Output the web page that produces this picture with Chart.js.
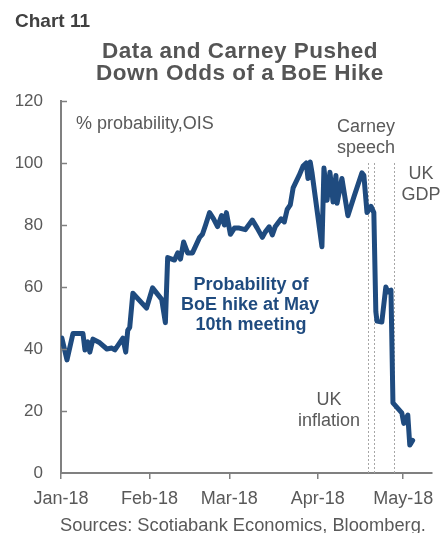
<!DOCTYPE html>
<html>
<head>
<meta charset="utf-8">
<script src="https://cdn.jsdelivr.net/npm/chart.js@4.4.1/dist/chart.umd.min.js"></script>
<style>
  html, body { margin: 0; padding: 0; background: #fff; }
  #wrap { position: relative; width: 443px; height: 533px; font-family: 'Liberation Sans', Arial, sans-serif; }
  #c { position: absolute; left: 0; top: 0; }
  .txt { position: absolute; white-space: nowrap; }
  #tag { left: 15px; top: 10px; font: bold 19px 'Liberation Sans Narrow', 'Liberation Sans', Arial, sans-serif; color: #404040; }
  #title { left: 40px; top: 40px; width: 400px; text-align: center; font-weight: bold; font-size: 22.5px; letter-spacing: 0.5px; line-height: 22px; color: #555555; }
  #source { left: 43px; top: 515px; width: 400px; text-align: center; font-size: 18.3px; line-height: 20px; color: #595959; }
</style>
</head>
<body>
<div id="wrap">
  <canvas id="c" width="443" height="533"></canvas>
  <div class="txt" id="tag">Chart 11</div>
  <div class="txt" id="title">Data and Carney Pushed<br>Down Odds of a BoE Hike</div>
  <div class="txt" id="source">Sources: Scotiabank Economics, Bloomberg.</div>
</div>
<script>
// days counted from 1 Jan 2018
var monthStarts = [0, 31, 59, 90, 120];
var monthLabels = ['Jan-18', 'Feb-18', 'Mar-18', 'Apr-18', 'May-18'];

var days = [0.3, 2.1, 4.2, 7.7, 8.4, 9.4, 10.1, 11.2, 13.6, 16.1,
  17.8, 18.9, 21.7, 22.7, 23.4, 24.1, 25.2, 30.0, 32.1, 35.3,
  36.6, 37.4, 39.8, 40.9, 41.9, 43.0, 44.4, 46.1, 48.6, 49.6,
  50.7, 52.1, 53.5, 54.9, 56.3, 57.3, 58.0, 59.4, 60.8, 62.5,
  64.6, 67.1, 68.8, 70.6, 71.6, 73.0, 74.1, 75.1, 77.2, 78.3,
  79.3, 80.4, 81.4, 83.5, 84.9, 86.0, 86.6, 87.4, 88.0, 91.5,
  92.2, 93.3, 94.3, 95.4, 96.4, 96.8, 98.5, 100.6, 102.7, 105.5,
  106.2, 107.3, 108.7, 109.7, 110.4, 110.8, 112.5, 113.9, 114.6, 115.7,
  116.4, 119.5, 120.2, 121.6, 122.3, 123.3];

var probability = [43.5, 36.5, 45, 45, 39.7, 42.3, 39, 43.2, 42, 40,
  40.3, 39.7, 43.5, 39, 46, 47, 58, 53.2, 59.7, 56,
  48.5, 69.5, 68.7, 71, 69, 74.5, 71, 71, 76, 77,
  80, 84, 82, 79.5, 83, 80, 84, 77, 79, 79,
  78.5, 81.6, 79, 76, 77.7, 79.4, 76.8, 79.4, 82, 81,
  85, 86.5, 92, 96, 99, 100, 95, 100.3, 97, 73,
  98.4, 88, 97, 87.4, 96, 87, 95, 83, 89, 96.8,
  96, 84, 86, 84, 52, 49, 48.7, 60, 58.4, 59,
  22.6, 19.4, 16, 18.7, 9, 10.5];

// UK inflation, Carney speech, UK GDP
var eventDays = [107.6, 109.7, 116.7];

var GRAY = '#595959';
var AXIS = '#808080';
var BLUE = '#1f4b7f';
var FONT = "'Liberation Sans', Arial, sans-serif";

/* dashed event lines, inward y ticks, notes */
var overlay = {
  id: 'overlay',
  beforeDatasetsDraw: function(chart) {
    var ctx = chart.ctx, x = chart.scales.x, y = chart.scales.y;
    ctx.save();
    ctx.strokeStyle = '#a6a6a6';
    ctx.lineWidth = 1;
    ctx.setLineDash([2, 2]);
    eventDays.forEach(function(d) {
      var px = Math.round(x.getPixelForValue(d)) + 0.5;
      ctx.beginPath();
      ctx.moveTo(px, y.getPixelForValue(100));
      ctx.lineTo(px, y.bottom);
      ctx.stroke();
    });
    ctx.restore();
  },
  afterDraw: function(chart) {
    var ctx = chart.ctx, x = chart.scales.x, y = chart.scales.y;
    ctx.save();
    ctx.strokeStyle = AXIS;
    ctx.lineWidth = 1.5;
    y.ticks.forEach(function(t) {
      var py = Math.round(y.getPixelForValue(t.value)) + 0.5;
      if (t.value === 0) return;
      ctx.beginPath();
      ctx.moveTo(x.left, py);
      ctx.lineTo(x.left + 6, py);
      ctx.stroke();
    });

    ctx.textBaseline = 'middle';
    ctx.fillStyle = GRAY;
    ctx.font = '18px ' + FONT;
    ctx.textAlign = 'left';
    ctx.fillText('% probability,OIS', 76, 124);
    ctx.textAlign = 'center';
    ctx.fillText('Carney', 366, 127);
    ctx.fillText('speech', 366, 148);
    ctx.fillText('UK', 421, 174);
    ctx.fillText('GDP', 421, 195);
    ctx.fillText('UK', 329, 400);
    ctx.fillText('inflation', 329, 421);

    ctx.fillStyle = BLUE;
    ctx.font = 'bold 18px ' + FONT;
    ctx.fillText('Probability of', 251, 285);
    ctx.fillText('BoE hike at May', 250, 305);
    ctx.fillText('10th meeting', 251, 325);
    ctx.restore();
  }
};

var ctx = document.getElementById('c').getContext('2d');
var chart = new Chart(ctx, {
  type: 'line',
  data: {
    datasets: [{
      label: 'Probability',
      data: days.map(function(d, i) { return { x: d, y: probability[i] }; }),
      borderColor: BLUE,
      borderWidth: 5,
      borderJoinStyle: 'round',
      borderCapStyle: 'round',
      pointRadius: 0,
      tension: 0,
      fill: false
    }]
  },
  options: {
    responsive: false,
    animation: false,
    layout: { padding: { top: 101, right: 10, bottom: 0, left: 0 } },
    plugins: {
      legend: { display: false },
      tooltip: { enabled: false }
    },
    scales: {
      x: {
        type: 'linear',
        min: 0,
        max: 130,
        afterBuildTicks: function(scale) {
          scale.ticks = monthStarts.map(function(v) { return { value: v }; });
        },
        afterFit: function(scale) { scale.height = 60; },
        grid: { display: true, drawOnChartArea: false, drawTicks: true, tickLength: 6, color: AXIS, lineWidth: 1.5 },
        border: { display: true, color: AXIS, width: 2 },
        ticks: {
          autoSkip: false,
          maxRotation: 0,
          padding: 9,
          color: GRAY,
          font: { family: FONT, size: 18 },
          callback: function(v) { return monthLabels[monthStarts.indexOf(v)]; }
        }
      },
      y: {
        min: 0,
        max: 120,
        afterFit: function(scale) { scale.width = 61; },
        grid: { display: true, drawOnChartArea: false, drawTicks: false },
        border: { display: true, color: AXIS, width: 2 },
        ticks: {
          stepSize: 20,
          padding: 18,
          color: GRAY,
          font: { family: FONT, size: 17 }
        }
      }
    }
  },
  plugins: [overlay]
});
</script>
</body>
</html>
